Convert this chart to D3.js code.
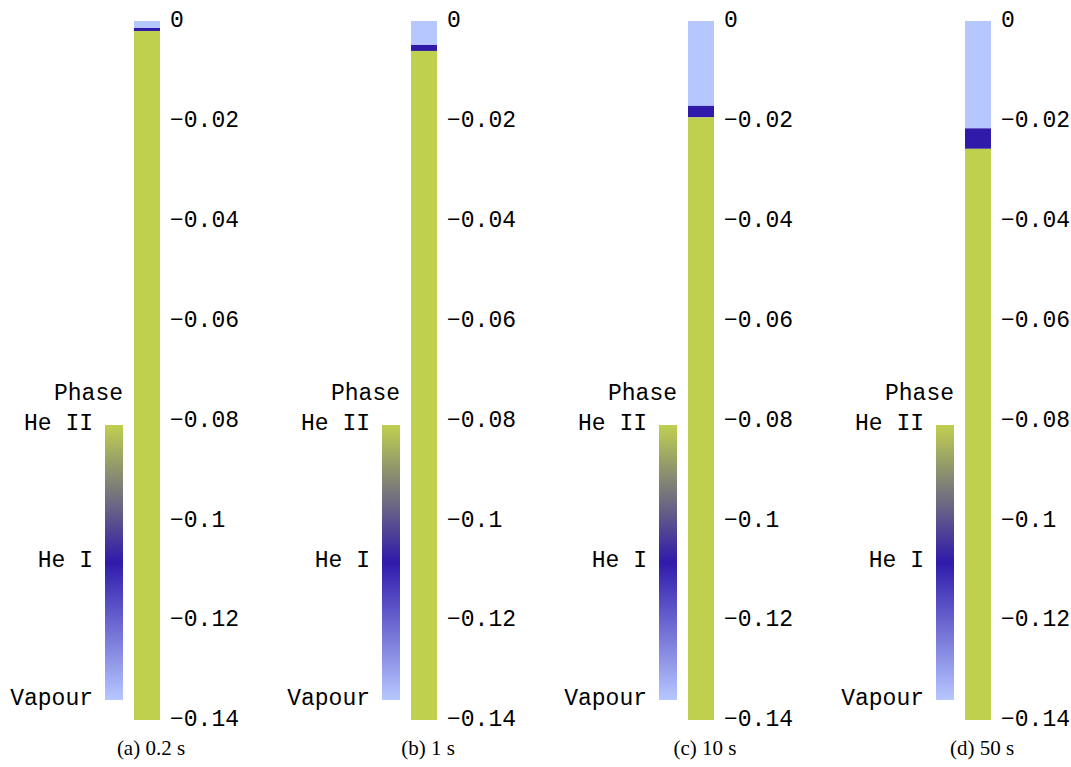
<!DOCTYPE html>
<html><head><meta charset="utf-8">
<script src="https://cdn.jsdelivr.net/npm/d3@7"></script>
<style>body{margin:0;background:#fff}svg{display:block}</style>
</head><body>
<script>
const panels = ["(a) 0.2 s", "(b) 1 s", "(c) 10 s", "(d) 50 s"];
const vapourBottom = [-0.0014, -0.0048, -0.0170, -0.0215];
const heIBottom = [-0.0020, -0.0060, -0.0193, -0.0256];
const depthMin = -0.14;
const tickValues = [0, -0.02, -0.04, -0.06, -0.08, -0.1, -0.12, -0.14];
const tickLabels = ["0", "\u22120.02", "\u22120.04", "\u22120.06", "\u22120.08", "\u22120.1", "\u22120.12", "\u22120.14"];
const phaseLabels = ["He II", "He I", "Vapour"];
const phaseValues = [2, 1, 0];

const W = 1071, H = 767;
const cGreen = "#bfd04f", cDark = "#2f1aaa", cLight = "#b6c7ff";
const svg = d3.select("body").append("svg").attr("width", W).attr("height", H);

const y = d3.scaleLinear().domain([0, depthMin]).range([21, 720]);
const px = d3.scaleLinear().domain([0, 3]).range([134, 965]);
const colW = 26;
const phaseColor = d3.scaleLinear().domain([0, 1, 2]).range([cLight, cDark, cGreen]).interpolate(d3.interpolateRgb);
const cbY = d3.scaleLinear().domain([0, 2]).range([700, 425]);

const defs = svg.append("defs");
const grad = defs.append("linearGradient").attr("id", "cb").attr("x1", 0).attr("y1", 1).attr("x2", 0).attr("y2", 0);
d3.range(0, 2.0001, 0.1).forEach(v => grad.append("stop").attr("offset", v / 2).attr("stop-color", phaseColor(v)));

const mono = "'Liberation Mono', 'Courier New', monospace";

panels.forEach((name, i) => {
  const g = svg.append("g");
  const x0 = px(i);
  const layers = [
    {top: 0, bot: vapourBottom[i], c: phaseColor(0)},
    {top: vapourBottom[i], bot: heIBottom[i], c: phaseColor(1)},
    {top: heIBottom[i], bot: depthMin, c: phaseColor(2)}
  ];
  g.selectAll("rect.l").data(layers).join("rect").attr("class", "l")
    .attr("x", x0).attr("width", colW)
    .attr("y", d => y(d.top)).attr("height", d => y(d.bot) - y(d.top))
    .attr("fill", d => d.c);
  const ax = d3.axisRight(y).tickValues(tickValues).tickSize(0).tickPadding(0)
    .tickFormat((d, k) => tickLabels[k]);
  const ag = g.append("g").attr("transform", `translate(${x0 + colW + 10},0)`).call(ax);
  ag.select(".domain").remove();
  ag.selectAll("text").attr("font-family", mono).attr("font-size", 23).attr("fill", "#000").attr("dy", "0.25em");
  const cbx = x0 - 29, cbw = 18;
  g.append("rect").attr("x", cbx).attr("y", cbY(2)).attr("width", cbw).attr("height", cbY(0) - cbY(2)).attr("fill", "url(#cb)");
  g.selectAll("text.pl").data(phaseValues).join("text").attr("class", "pl")
    .attr("x", cbx - 12).attr("y", d => cbY(d)).attr("dy", "0.2em")
    .attr("text-anchor", "end").attr("font-family", mono).attr("font-size", 23)
    .text((d, k) => phaseLabels[k]);
  g.append("text").attr("x", cbx + cbw).attr("y", 394).attr("dy", "0.28em").attr("text-anchor", "end")
    .attr("font-family", mono).attr("font-size", 23).text("Phase");
  g.append("text").attr("x", x0 + colW / 2 + 4).attr("y", 755).attr("text-anchor", "middle")
    .attr("font-family", "'Liberation Serif', 'DejaVu Serif', serif").attr("font-size", 21).text(name);
});
</script>
</body></html>
